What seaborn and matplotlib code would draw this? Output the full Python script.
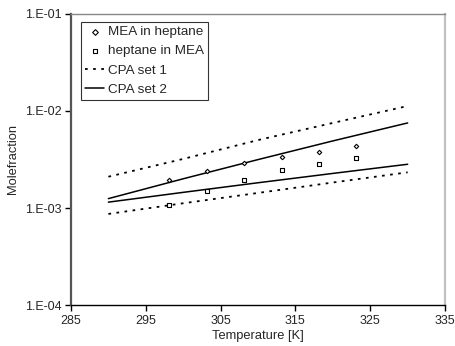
import numpy as np
import pandas as pd
import matplotlib
matplotlib.use("Agg")
import matplotlib.pyplot as plt
import seaborn as sns
from matplotlib.ticker import FixedLocator, FuncFormatter, NullLocator

# Data
T_exp = [298.15, 303.15, 308.15, 313.15, 318.15, 323.15]
mea_in_heptane = [1.95e-3, 2.39e-3, 2.89e-3, 3.33e-3, 3.81e-3, 4.33e-3]
heptane_in_mea = [1.08e-3, 1.49e-3, 1.93e-3, 2.48e-3, 2.82e-3, 3.28e-3]

T_model = [290, 300, 310, 320, 330]
cpa1_upper = [2.1e-3, 3.2e-3, 5.0e-3, 7.5e-3, 1.12e-2]
cpa1_lower = [8.7e-4, 1.12e-3, 1.43e-3, 1.83e-3, 2.33e-3]
cpa2_upper = [1.25e-3, 2.0e-3, 3.15e-3, 4.9e-3, 7.5e-3]
cpa2_lower = [1.15e-3, 1.45e-3, 1.82e-3, 2.27e-3, 2.82e-3]

xticks = [285, 295, 305, 315, 325, 335]
yticks = [1e-4, 1e-3, 1e-2, 1e-1]
ytick_labels = ["1.E-04", "1.E-03", "1.E-02", "1.E-01"]

sns.set_style("ticks")
plt.rcParams['font.family'] = ['Liberation Sans', 'DejaVu Sans']

fig = plt.figure(figsize=(4.56, 3.46), dpi=100)
ax = fig.add_axes([0.1557, 0.1176, 0.8203, 0.8433])

df_exp = pd.DataFrame({"T": T_exp, "a": mea_in_heptane, "b": heptane_in_mea})
df_mod = pd.DataFrame({"T": T_model, "u1": cpa1_upper, "l1": cpa1_lower,
                       "u2": cpa2_upper, "l2": cpa2_lower})

sns.lineplot(data=df_mod, x="T", y="u1", ax=ax, color="black", lw=1.3,
             linestyle=(0, (1.5, 3)), label="CPA set 1")
sns.lineplot(data=df_mod, x="T", y="l1", ax=ax, color="black", lw=1.3,
             linestyle=(0, (1.5, 3)), label="_nolegend_")
sns.lineplot(data=df_mod, x="T", y="u2", ax=ax, color="black", lw=1.1,
             label="CPA set 2")
sns.lineplot(data=df_mod, x="T", y="l2", ax=ax, color="black", lw=1.1,
             label="_nolegend_")
sns.scatterplot(data=df_exp, x="T", y="a", ax=ax, marker="D", s=5,
                facecolor="white", edgecolor="black", linewidth=0.8,
                label="MEA in heptane", zorder=5)
sns.scatterplot(data=df_exp, x="T", y="b", ax=ax, marker="s", s=7,
                facecolor="white", edgecolor="black", linewidth=0.8,
                label="heptane in MEA", zorder=5)

ax.set_yscale("log")
ax.set_xlim(285, 335)
ax.set_ylim(1e-4, 1e-1)
ax.xaxis.set_major_locator(FixedLocator(xticks))
ax.yaxis.set_major_locator(FixedLocator(yticks))
ax.yaxis.set_minor_locator(NullLocator())
ax.yaxis.set_major_formatter(FuncFormatter(lambda v, p: ytick_labels[yticks.index(min(yticks, key=lambda t: abs(np.log10(t) - np.log10(v))))]))
ax.tick_params(axis="both", labelsize=9, length=4, width=1, color="black", pad=3)
ax.set_xlabel("Temperature [K]", fontsize=9.3, labelpad=2)
ax.set_ylabel("Molefraction", fontsize=9.3, labelpad=4)

ax.spines["left"].set_color("#555555")
ax.spines["left"].set_linewidth(1.6)
ax.spines["bottom"].set_color("black")
ax.spines["bottom"].set_linewidth(1.0)
ax.spines["top"].set_color("#888888")
ax.spines["top"].set_linewidth(1.0)
ax.spines["right"].set_color("#c0c0c0")
ax.spines["right"].set_linewidth(1.6)
ax.spines["top"].set_visible(True)
ax.spines["right"].set_visible(True)

h, l = ax.get_legend_handles_labels()
order = [l.index(n) for n in ["MEA in heptane", "heptane in MEA", "CPA set 1", "CPA set 2"]]
leg = ax.legend([h[i] for i in order], [l[i] for i in order],
                loc="upper left", bbox_to_anchor=(0.027, 0.972), fontsize=9.7,
                frameon=True, fancybox=False, edgecolor="black",
                handlelength=1.4, handletextpad=0.3, borderpad=0.3,
                labelspacing=0.5, borderaxespad=0, markerscale=1.3)
leg.get_frame().set_linewidth(0.8)

fig.savefig("out.png", dpi=100)
